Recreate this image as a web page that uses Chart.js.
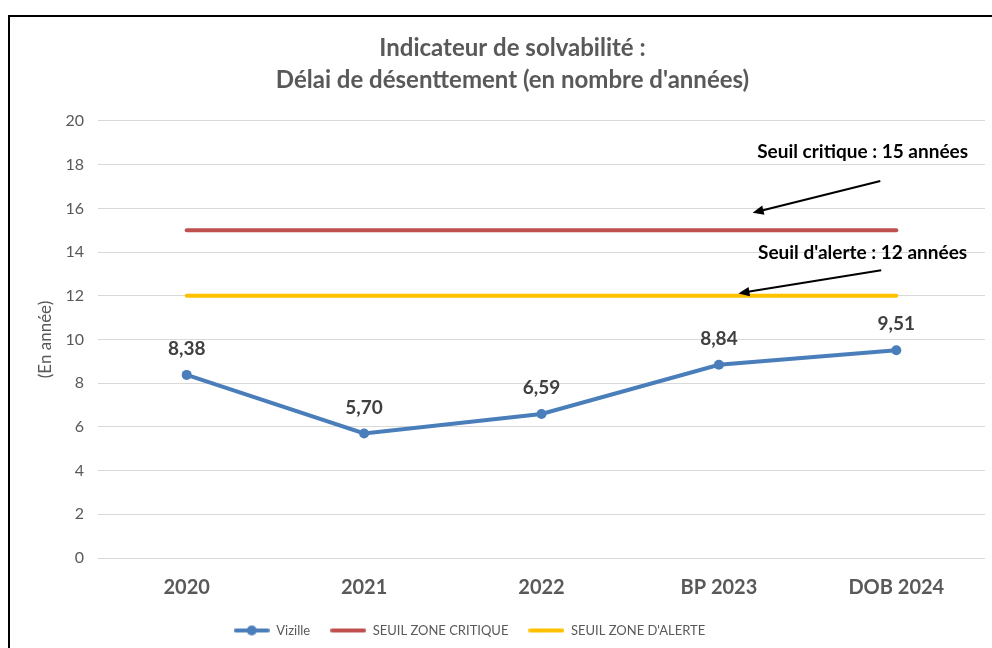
<!DOCTYPE html>
<html>
<head>
<meta charset="utf-8">
<script src="https://cdn.jsdelivr.net/npm/chart.js@4.4.0/dist/chart.umd.min.js"></script>
<style>
    html, body { margin: 0; padding: 0; background: #fff; overflow: hidden; }
    #frame {
        position: absolute;
        left: 8px;
        top: 15px;
        width: 1016px;
        height: 660px;
        border: 2px solid #000;
        background: #fff;
    }
    #frame canvas { display: block; }
</style>
</head>
<body>
<div id="frame"><canvas id="solvChart" width="1016" height="640"></canvas></div>
<script>
const categories = ['2020', '2021', '2022', 'BP 2023', 'DOB 2024'];
const vizille = [8.38, 5.70, 6.59, 8.84, 9.51];
const seuilCritique = [15, 15, 15, 15, 15];
const seuilAlerte = [12, 12, 12, 12, 12];
const yMin = 0, yMax = 20, yStep = 2;

const notes = [
    { text: 'Seuil critique : 15 années', at: [3.81, 18.6], from: [3.91, 17.25], to: [3.19, 15.8] },
    { text: "Seuil d'alerte : 12 années", at: [3.81, 13.95], from: [3.915, 13.17], to: [3.11, 12.11] }
];

const BLUE = '#4a7ebb';
const RED = '#c0504d';
const YELLOW = '#ffc000';
const GREY = '#595959';
const FONT = 'Lato, "Open Sans", sans-serif';

// small legend swatches: line (+ dot for the series)
function swatch(color, withDot) {
    const c = document.createElement('canvas');
    c.width = 36;
    c.height = 12;
    const g = c.getContext('2d');
    g.strokeStyle = color;
    g.lineWidth = 4;
    g.lineCap = 'round';
    g.beginPath();
    g.moveTo(2, 6);
    g.lineTo(34, 6);
    g.stroke();
    if (withDot) {
        g.fillStyle = color;
        g.beginPath();
        g.arc(18, 6, 5, 0, Math.PI * 2);
        g.fill();
    }
    return c;
}

// excel places title and legend off the plot centre, nudge them
const boxNudge = {
    id: 'boxNudge',
    afterLayout(chart) {
        if (chart.titleBlock) {
            chart.titleBlock.left += 15;
            chart.titleBlock.right += 15;
        }
        if (chart.legend) {
            chart.legend.left -= 28;
            chart.legend.right -= 28;
        }
    }
};

const valueLabels = {
    id: 'valueLabels',
    afterDatasetsDraw(chart) {
        const meta = chart.getDatasetMeta(0);
        const ctx = chart.ctx;
        ctx.save();
        ctx.font = 'bold 19px ' + FONT;
        ctx.fillStyle = '#404040';
        ctx.textAlign = 'center';
        ctx.textBaseline = 'middle';
        meta.data.forEach((pt, i) => {
            ctx.fillText(vizille[i].toFixed(2).replace('.', ','), pt.x, pt.y - 26);
        });
        ctx.restore();
    }
};

const arrowNotes = {
    id: 'arrowNotes',
    afterDraw(chart) {
        const x = chart.scales.x, y = chart.scales.y;
        const ctx = chart.ctx;
        ctx.save();
        notes.forEach(n => {
            ctx.font = 'bold 19px ' + FONT;
            ctx.fillStyle = '#000';
            ctx.textAlign = 'center';
            ctx.textBaseline = 'middle';
            ctx.fillText(n.text, x.getPixelForValue(n.at[0]), y.getPixelForValue(n.at[1]));

            const x1 = x.getPixelForValue(n.from[0]), y1 = y.getPixelForValue(n.from[1]);
            const x2 = x.getPixelForValue(n.to[0]), y2 = y.getPixelForValue(n.to[1]);
            const ang = Math.atan2(y2 - y1, x2 - x1);
            const head = 12;
            ctx.strokeStyle = '#000';
            ctx.lineWidth = 2;
            ctx.beginPath();
            ctx.moveTo(x1, y1);
            ctx.lineTo(x2 - Math.cos(ang) * head * 0.8, y2 - Math.sin(ang) * head * 0.8);
            ctx.stroke();
            ctx.fillStyle = '#000';
            ctx.beginPath();
            ctx.moveTo(x2, y2);
            ctx.lineTo(x2 - head * Math.cos(ang - 0.4), y2 - head * Math.sin(ang - 0.4));
            ctx.lineTo(x2 - head * Math.cos(ang + 0.4), y2 - head * Math.sin(ang + 0.4));
            ctx.closePath();
            ctx.fill();
        });
        ctx.restore();
    }
};

const ctx = document.getElementById('solvChart').getContext('2d');
const chart = new Chart(ctx, {
    type: 'line',
    data: {
        labels: categories,
        datasets: [
            {
                label: 'Vizille',
                data: vizille,
                borderColor: BLUE,
                backgroundColor: BLUE,
                borderWidth: 4,
                pointRadius: 5,
                pointBackgroundColor: BLUE,
                pointBorderWidth: 0,
                tension: 0,
                order: 0
            },
            {
                label: 'SEUIL ZONE CRITIQUE',
                data: seuilCritique,
                borderColor: RED,
                backgroundColor: RED,
                borderWidth: 4,
                borderCapStyle: 'round',
                pointRadius: 0,
                order: 1
            },
            {
                label: "SEUIL ZONE D'ALERTE",
                data: seuilAlerte,
                borderColor: YELLOW,
                backgroundColor: YELLOW,
                borderWidth: 4,
                borderCapStyle: 'round',
                pointRadius: 0,
                order: 2
            }
        ]
    },
    options: {
        responsive: false,
        animation: false,
        layout: { padding: { left: 0, right: 41, top: 0, bottom: 10 } },
        plugins: {
            title: {
                display: true,
                text: ['Indicateur de solvabilité :', "Délai de désenttement (en nombre d'années)"],
                color: GREY,
                font: { family: FONT, size: 24, weight: 'bold', lineHeight: 1.333 },
                padding: { top: 15, bottom: 25 }
            },
            legend: {
                position: 'bottom',
                labels: {
                    color: GREY,
                    font: { family: FONT, size: 13 },
                    usePointStyle: true,
                    pointStyleWidth: 36,
                    padding: 20,
                    generateLabels(chart) {
                        return chart.data.datasets.map((ds, i) => ({
                            text: ds.label,
                            fillStyle: ds.borderColor,
                            strokeStyle: ds.borderColor,
                            lineWidth: 0,
                            fontColor: GREY,
                            pointStyle: swatch(ds.borderColor, i === 0),
                            datasetIndex: i,
                            hidden: false
                        }));
                    }
                }
            },
            tooltip: { enabled: false }
        },
        scales: {
            x: {
                offset: true,
                grid: { display: false, drawTicks: false },
                border: { display: false },
                ticks: {
                    color: GREY,
                    font: { family: FONT, size: 20, weight: 'bold' },
                    padding: 18
                },
                afterFit(scale) { scale.height = 46; }
            },
            y: {
                min: yMin,
                max: yMax,
                grid: { color: '#d9d9d9', lineWidth: 1, drawTicks: false },
                border: { display: false },
                ticks: {
                    stepSize: yStep,
                    color: GREY,
                    font: { family: FONT, size: 16 },
                    padding: 14
                },
                title: {
                    display: true,
                    text: '(En année)',
                    color: GREY,
                    font: { family: FONT, size: 17 },
                    padding: { top: 25, bottom: 0 }
                },
                afterFit(scale) { scale.width = 88; }
            }
        }
    },
    plugins: [boxNudge, valueLabels, arrowNotes]
});
</script>
</body>
</html>
